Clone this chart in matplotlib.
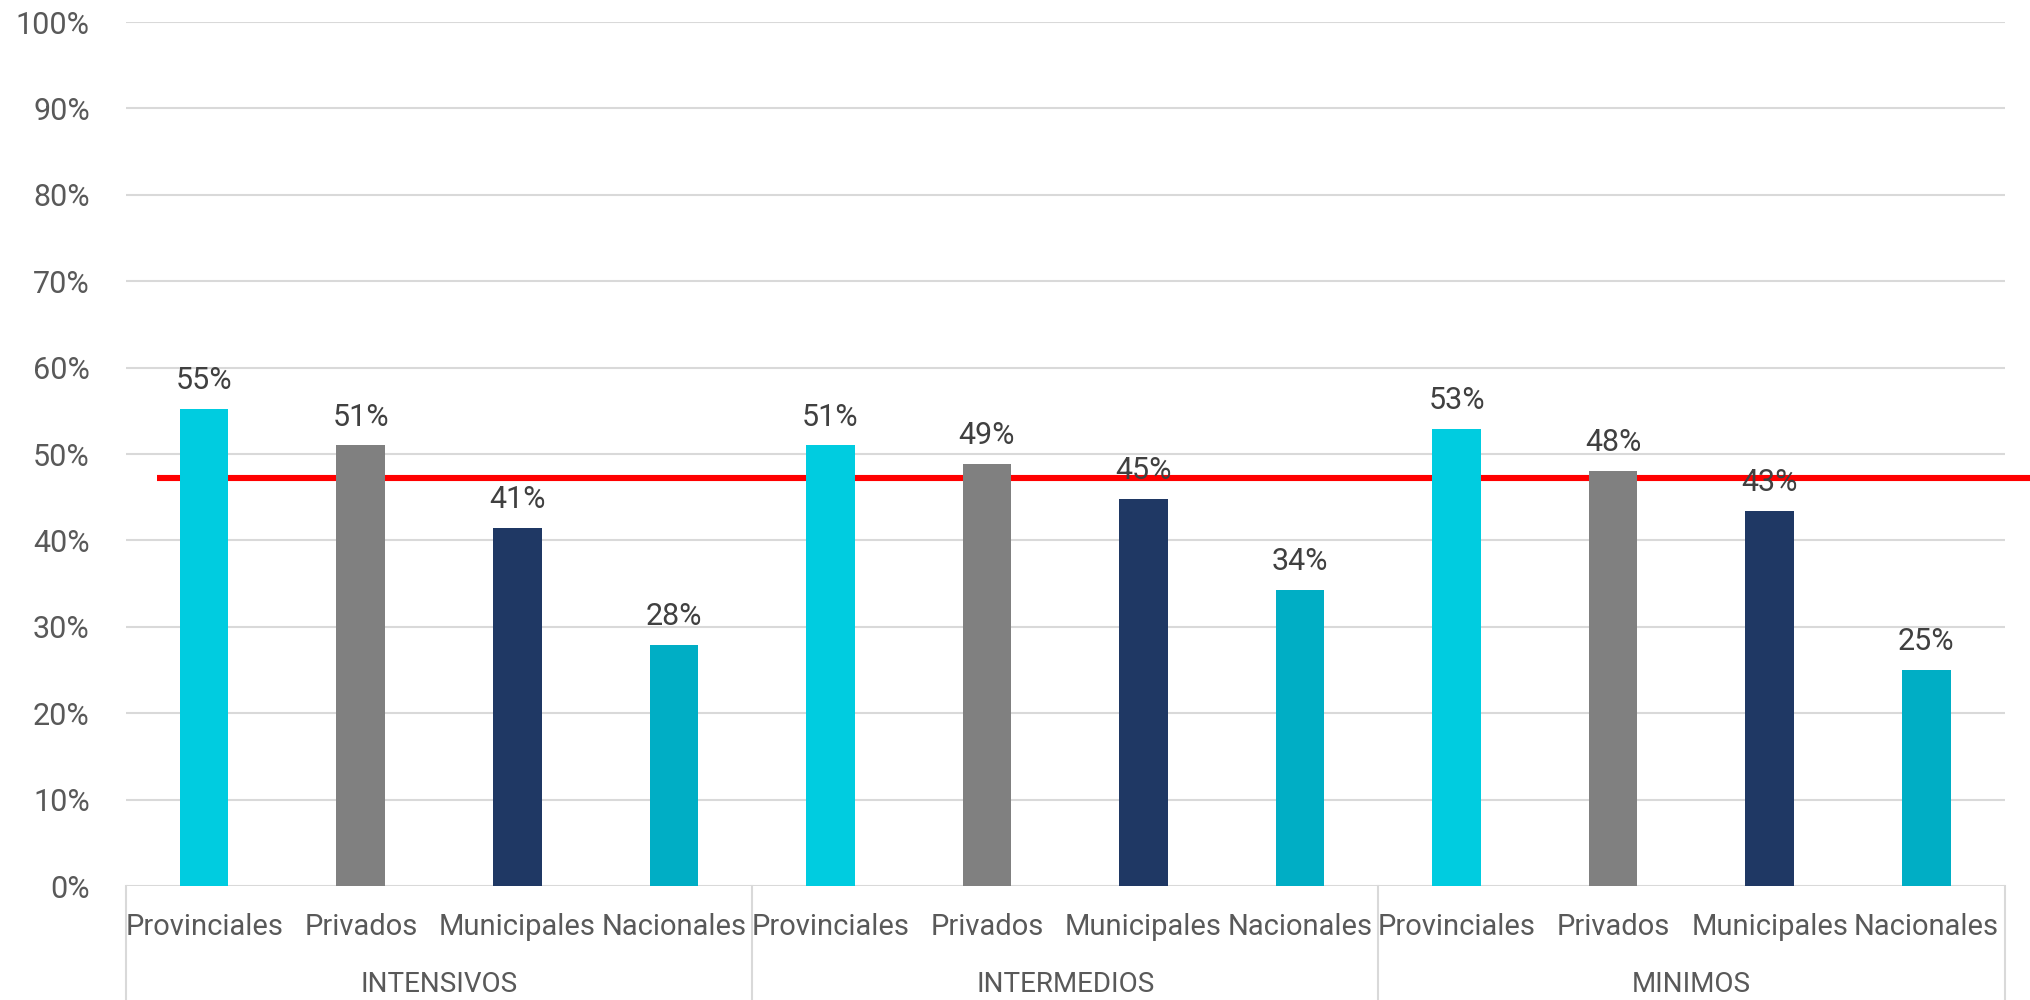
import matplotlib
matplotlib.use("Agg")
from matplotlib import pyplot as plt
from matplotlib.ticker import FuncFormatter

plt.rcParams['font.family'] = ['Roboto', 'DejaVu Sans']

# datos
grupos = ["INTENSIVOS", "INTERMEDIOS", "MINIMOS"]
tipos = ["Provinciales", "Privados", "Municipales", "Nacionales"]
intensivos = [55.2, 51.0, 41.4, 27.9]
intermedios = [51.0, 48.9, 44.8, 34.3]
minimos = [52.9, 48.0, 43.4, 25.0]
promedio = 47.2
colores = ["#00CCE0", "#808080", "#1F3864", "#00AEC5"]

valores = intensivos + intermedios + minimos
etiquetas = tipos * len(grupos)
x = list(range(len(valores)))

fig = plt.figure(figsize=(20.31, 10), dpi=100)
ax = fig.add_axes([0.062, 0.114, 0.925, 0.864])

ax.bar(x, valores, width=0.31, color=colores * len(grupos), zorder=3)

for xi, v in zip(x, valores):
    ax.text(xi, v + 1.6, "{:.0f}%".format(v), ha="center", va="bottom",
            fontsize=22, color="#404040", zorder=4)

# linea de promedio (queda detras de las barras)
ax.plot([-0.3, 11.7], [promedio, promedio], color="#FF0000", lw=4.4,
        clip_on=False, zorder=2, solid_capstyle="butt")

ax.set_xlim(-0.5, 11.5)
ax.set_ylim(0, 100)
ax.set_yticks(range(0, 101, 10))
ax.yaxis.set_major_formatter(FuncFormatter(lambda v, p: "{:.0f}%".format(v)))
ax.tick_params(axis="y", length=0, pad=26, labelsize=22, labelcolor="#595959")
ax.set_xticks([])
ax.yaxis.grid(True, color="#D9D9D9", lw=1.5, zorder=0)
ax.set_axisbelow(True)
for s in ax.spines.values():
    s.set_visible(False)

# etiquetas de categorias y grupos
for xi, lab in zip(x, etiquetas):
    ax.text(xi, -4.8, lab, ha="center", va="center", fontsize=21,
            color="#595959", clip_on=False)
for i, g in enumerate(grupos):
    ax.text(i * 4 + 1.5, -11.4, g, ha="center", va="center", fontsize=20,
            color="#595959", clip_on=False)

# separadores
for sx in [-0.5, 3.5, 7.5, 11.5]:
    ax.plot([sx, sx], [0, -14], color="#D9D9D9", lw=1.5, clip_on=False)

fig.savefig("out.png", dpi=100)
